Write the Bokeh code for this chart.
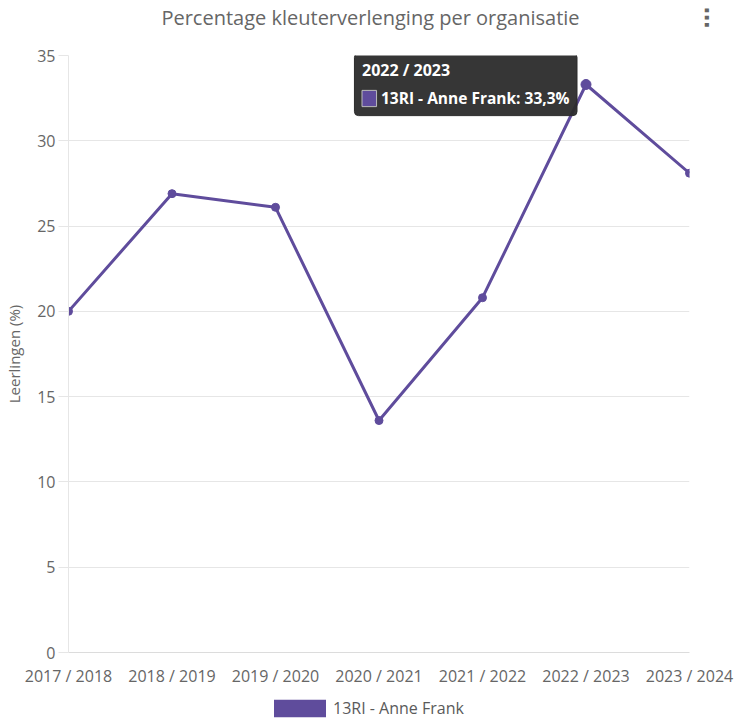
from bokeh.plotting import figure
from bokeh.models import Range1d, FixedTicker, Label, Legend, LegendItem, Title
from bokeh.layouts import column
from bokeh.embed import file_html
from bokeh.resources import INLINE

# ---- data ----
seasons = ["2017 / 2018", "2018 / 2019", "2019 / 2020", "2020 / 2021",
           "2021 / 2022", "2022 / 2023", "2023 / 2024"]
values = [20.0, 26.9, 26.1, 13.6, 20.8, 33.3, 28.1]
series_name = "13RI - Anne Frank"
y_ticks = [0, 5, 10, 15, 20, 25, 30, 35]
title_text = "Percentage kleuterverlenging per organisatie"
y_label = "Leerlingen (%)"
hover_index = 5

FONT = "Open Sans"
PURPLE = "#5f4c9c"
TIP_BG = "#2b2b2b"
W = 736
FRAME_L, FRAME_R = 68, 689   # page x of the plot frame (frames are aligned in the column)

x_idx = list(range(len(seasons)))

# ---- title strip ----
p0 = figure(width=W, height=34, output_backend="svg", toolbar_location=None,
            x_range=Range1d(FRAME_L, FRAME_R), y_range=Range1d(0, 34),
            x_axis_location=None, y_axis_location=None,
            min_border=0, outline_line_color=None)
p0.grid.visible = False
p0.add_layout(Label(x=370, y=17, text=title_text, text_align="center",
                    text_baseline="middle", text_font=FONT, text_font_size="20px",
                    text_color="#666666"))
menu = Title(text="\u22ef", align="center", text_font="DejaVu Sans",
             text_font_size="22px", text_font_style="bold", text_color="#666666",
             standoff=8)
p0.add_layout(menu, "right")

# ---- main chart ----
p = figure(width=W, height=663, output_backend="svg", toolbar_location=None,
           x_range=Range1d(0, len(seasons) - 1), y_range=Range1d(0, 35),
           min_border_left=FRAME_L, min_border_right=W - FRAME_R, min_border_top=21,
           min_border_bottom=45)
p.outline_line_color = None
p.background_fill_color = "white"
p.border_fill_color = "white"

p.xaxis.ticker = FixedTicker(ticks=x_idx)
p.xaxis.major_label_overrides = {i: s for i, s in enumerate(seasons)}
p.xaxis.major_label_text_font = FONT
p.xaxis.major_label_text_font_size = "16px"
p.xaxis.major_label_text_color = "#666666"
p.xaxis.axis_line_color = "#dcdcdc"
p.xaxis.major_tick_line_color = None
p.xaxis.major_tick_out = 0
p.xaxis.major_tick_in = 0
p.xaxis.minor_tick_line_color = None
p.xaxis.major_label_standoff = 12

p.yaxis.ticker = FixedTicker(ticks=y_ticks)
p.yaxis.major_label_text_font = FONT
p.yaxis.major_label_text_font_size = "16px"
p.yaxis.major_label_text_color = "#666666"
p.yaxis.axis_line_color = "#e6e6e6"
p.yaxis.major_tick_line_color = "#e6e6e6"
p.yaxis.major_tick_out = 10
p.yaxis.major_tick_in = 0
p.yaxis.minor_tick_line_color = None
p.yaxis.major_label_standoff = 3
p.yaxis.axis_label = y_label
p.yaxis.axis_label_text_font = FONT
p.yaxis.axis_label_text_font_size = "15px"
p.yaxis.axis_label_text_font_style = "normal"
p.yaxis.axis_label_text_color = "#666666"
p.yaxis.axis_label_standoff = 10

p.xgrid.grid_line_color = None
p.ygrid.grid_line_color = "#e6e6e6"

p.line(x_idx, values, line_color=PURPLE, line_width=3)
p.scatter(x_idx, values, size=8, fill_color=PURPLE, line_color=PURPLE)
p.scatter([x_idx[hover_index]], [values[hover_index]], size=10,
          fill_color=PURPLE, line_color=PURPLE)

# tooltip (static)
hx, hy = x_idx[hover_index], values[hover_index]
box = Label(x=hx, y=hy, text=" ", text_font_size="2px", text_color=TIP_BG,
            anchor="center_right", x_offset=-9, y_offset=0,
            background_fill_color=TIP_BG, background_fill_alpha=0.95,
            border_line_color=TIP_BG, border_radius=4,
            padding=dict(left=111, right=111, top=30, bottom=30))
p.add_layout(box)
p.add_layout(Label(x=hx, y=hy, text=seasons[hover_index], x_offset=-224, y_offset=14,
                   text_align="left", text_baseline="middle", text_font=FONT,
                   text_font_size="16px", text_font_style="bold", text_color="white"))
p.add_layout(Label(x=hx, y=hy, text=" ", text_font_size="2px", text_color=PURPLE,
                   anchor="center_left", x_offset=-224, y_offset=-14,
                   background_fill_color=PURPLE, border_line_color="#bbbbbb",
                   padding=dict(left=7, right=7, top=7, bottom=7)))
val_txt = f"{values[hover_index]:.1f}".replace(".", ",")
p.add_layout(Label(x=hx, y=hy, text=f"{series_name}: {val_txt}%", x_offset=-205,
                   y_offset=-14, text_align="left", text_baseline="middle",
                   text_font=FONT, text_font_size="15.5px", text_font_style="bold",
                   text_color="white"))

# ---- legend strip ----
p2 = figure(width=W, height=22, output_backend="svg", toolbar_location=None,
            x_axis_location=None, y_axis_location=None,
            min_border=0, outline_line_color=None)
p2.grid.visible = False
# zero-height band: draws nothing, only supplies the filled legend swatch
band = p2.varea(x=x_idx, y1=values, y2=values, fill_color=PURPLE)
legend = Legend(items=[LegendItem(label=series_name, renderers=[band])],
                orientation="horizontal", location=(267 - FRAME_L, 0),
                label_text_font=FONT, label_text_font_size="16px",
                label_text_color="#5a5a5a", glyph_width=65, glyph_height=22,
                border_line_color=None, background_fill_alpha=0,
                padding=0, margin=0, label_standoff=1, spacing=0)
p2.add_layout(legend)

open("out.html", "w").write(file_html(column(p0, p, p2, spacing=0), INLINE))
